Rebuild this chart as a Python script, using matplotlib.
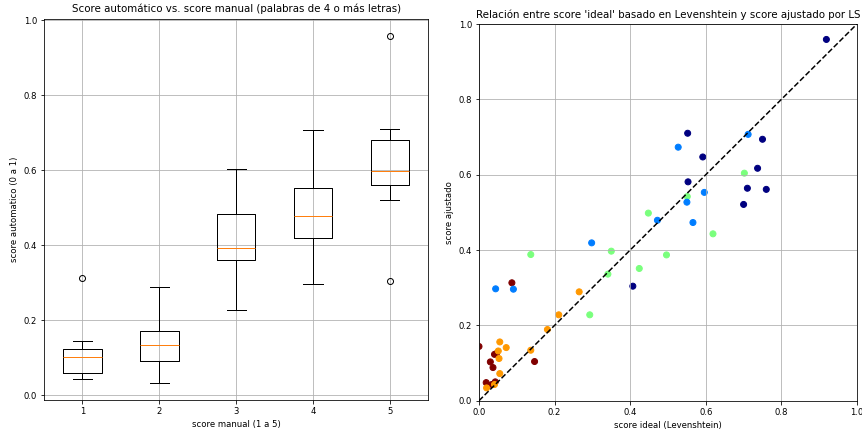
import matplotlib
matplotlib.use("Agg")
import matplotlib.pyplot as plt
import numpy as np

# Data per manual score group: (score ideal, score ajustado)
ideal_1 = [0.000, 0.041, 0.046, 0.030, 0.147, 0.037, 0.019, 0.043, 0.087, 0.034]
ajust_1 = [0.144, 0.123, 0.125, 0.103, 0.104, 0.088, 0.048, 0.050, 0.313, 0.043]

ideal_2 = [0.265, 0.211, 0.181, 0.137, 0.055, 0.072, 0.051, 0.053, 0.055, 0.041, 0.020]
ajust_2 = [0.289, 0.228, 0.189, 0.134, 0.156, 0.141, 0.132, 0.112, 0.072, 0.043, 0.034]

ideal_3 = [0.702, 0.551, 0.448, 0.619, 0.350, 0.137, 0.496, 0.424, 0.341, 0.293]
ajust_3 = [0.604, 0.542, 0.498, 0.443, 0.397, 0.388, 0.387, 0.351, 0.336, 0.228]

ideal_4 = [0.712, 0.527, 0.596, 0.550, 0.472, 0.566, 0.298, 0.044, 0.091]
ajust_4 = [0.707, 0.673, 0.553, 0.527, 0.479, 0.473, 0.419, 0.297, 0.296]

ideal_5 = [0.919, 0.552, 0.750, 0.592, 0.737, 0.553, 0.710, 0.760, 0.700, 0.407]
ajust_5 = [0.959, 0.710, 0.694, 0.647, 0.617, 0.581, 0.564, 0.561, 0.521, 0.304]

manual_scores = [1, 2, 3, 4, 5]
ideal_groups = [ideal_1, ideal_2, ideal_3, ideal_4, ideal_5]
ajust_groups = [ajust_1, ajust_2, ajust_3, ajust_4, ajust_5]

plt.rcParams["font.size"] = 8.55

W, H, DPI = 862, 432, 72
fig = plt.figure(figsize=(W / DPI, H / DPI), dpi=DPI)

# Left: boxplot
ax1 = fig.add_axes([44 / W, 1 - 400 / H, (428.3 - 44) / W, (400 - 18.5) / H])
ax1.boxplot(ajust_groups, labels=[str(m) for m in manual_scores])
ax1.grid(True)
ax1.set_title("Score automático vs. score manual (palabras de 4 o más letras)")
ax1.set_xlabel("score manual (1 a 5)")
ax1.set_ylabel("score automatico (0 a 1)")

# Right: scatter
ax2 = fig.add_axes([479 / W, 1 - 400.7 / H, (857 - 479) / W, (400.7 - 24) / H])
xs = np.concatenate([np.array(g) for g in ideal_groups])
ys = np.concatenate([np.array(g) for g in ajust_groups])
cs = np.concatenate([np.full(len(g), m) for g, m in zip(ideal_groups, manual_scores)])
ax2.scatter(xs, ys, c=cs, cmap="jet_r", vmin=1, vmax=5)
ax2.plot([0, 1], [0, 1], "k--")
ax2.set_xlim(0, 1)
ax2.set_ylim(0, 1)
ax2.grid(True)
ax2.set_title("Relación entre score 'ideal' basado en Levenshtein y score ajustado por LS")
ax2.set_xlabel("score ideal (Levenshtein)")
ax2.set_ylabel("score ajustado")

fig.savefig("out.png", dpi=DPI)
